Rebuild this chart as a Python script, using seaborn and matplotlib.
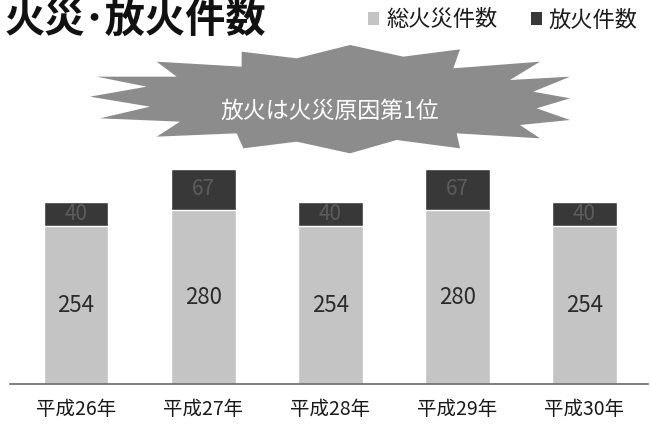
import matplotlib
matplotlib.use("Agg")
import matplotlib.pyplot as plt
import seaborn as sns
import pandas as pd
from matplotlib.patches import Polygon, Patch

# ---- data ----
years = ["平成26年", "平成27年", "平成28年", "平成29年", "平成30年"]
total_fires = [254, 280, 254, 280, 254]
arson = [40, 67, 40, 67, 40]

title = "火災･放火件数"
legend_labels = ["総火災件数", "放火件数"]
banner_text = "放火は火災原因第1位"

sns.set_theme(style="white")
plt.rcParams["font.family"] = ["Noto Sans CJK JP", "DejaVu Sans"]

light = "#c4c4c4"
dark = "#383838"
burst = "#8c8c8c"

df = pd.DataFrame({"year": years, "total": total_fires, "arson": arson})
df["stack"] = df["total"] + df["arson"]

fig = plt.figure(figsize=(6.51, 4.30), dpi=100)
ax = fig.add_axes([10 / 651, 46 / 430, 638 / 651, 234 / 430])

sns.barplot(data=df, x="year", y="stack", color=dark, saturation=1, width=0.51, ax=ax)
sns.barplot(data=df, x="year", y="total", color=light, saturation=1, width=0.51, ax=ax)

light_bars = ax.containers[1]
for rect, t, a in zip(light_bars, df["total"], df["arson"]):
    cx = rect.get_x() + rect.get_width() / 2
    ax.text(cx, t / 2, str(t), ha="center", va="center", fontsize=16, color="#2a2a2a")
    ax.text(cx, t + a / 2, str(a), ha="center", va="center", fontsize=15, color="#5c5c5c")

ax.set_xlim(-0.52, 4.5)
ax.set_ylim(0, 377)
ax.set_xlabel("")
ax.set_ylabel("")
ax.set_yticks([])
for s in ["left", "right", "top"]:
    ax.spines[s].set_visible(False)
ax.spines["bottom"].set_color("#6a6a6a")
ax.spines["bottom"].set_linewidth(1.2)
ax.tick_params(axis="x", length=0, pad=11, labelsize=14, labelcolor="#1a1a1a")

# title
fig.text(5 / 651, 1 - 20 / 430, title, fontsize=29, fontweight="bold",
         ha="left", va="center", color="#111111")

# legend
handles = [Patch(facecolor=light, edgecolor="none"), Patch(facecolor=dark, edgecolor="none")]
fig.legend(handles, legend_labels, loc="center right", bbox_to_anchor=(653 / 651, 1 - 20 / 430),
           ncol=2, frameon=False, fontsize=16, handlelength=0.5, handleheight=0.5,
           handletextpad=0.3, columnspacing=1.5, labelcolor="#1a1a1a", borderpad=0.2)

# starburst decoration (shape outline in zoom coordinates)
shape = [(200, 65), (455, 80), (455, 35), (620, 55), (780, 15), (940, 50), (1110, 28),
         (1090, 85), (1350, 65), (1260, 120), (1440, 110), (1330, 155), (1440, 175),
         (1340, 205), (1440, 240), (1290, 255), (1350, 295), (1100, 280), (1110, 325),
         (920, 300), (780, 340), (620, 305), (460, 325), (440, 280), (200, 290),
         (270, 245), (30, 235), (180, 200), (0, 170), (170, 140), (20, 110), (260, 110)]
pts = [((90 + x / 3) / 651, 1 - (40 + y / 3) / 430) for x, y in shape]
fig.patches.append(Polygon(pts, closed=True, transform=fig.transFigure,
                           facecolor=burst, edgecolor="none", zorder=1))
fig.text(330 / 651, 1 - 111 / 430, banner_text, fontsize=16.5, color="white",
         ha="center", va="center", zorder=2)

fig.savefig("out.png", dpi=100)
